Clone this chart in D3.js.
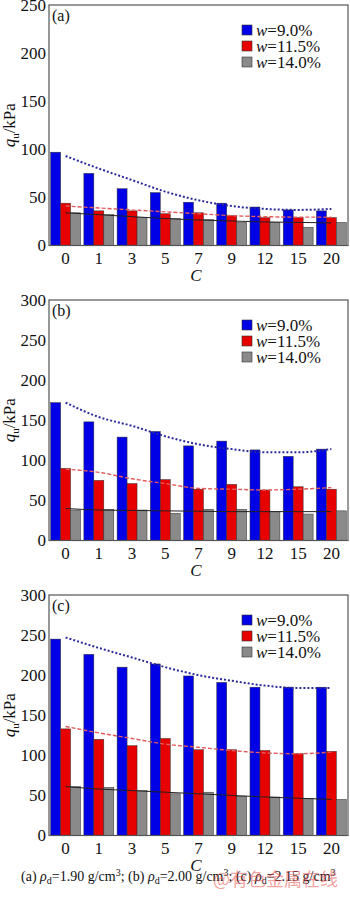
<!DOCTYPE html>
<html>
<head>
<meta charset="utf-8">
<script src="https://cdn.jsdelivr.net/npm/d3@7"></script>
<style>
  body { margin: 0; background: #fff; }
  svg { display: block; }
  svg text { font-family: "Liberation Serif", "Times New Roman", serif; }
  svg text.cjk { font-family: "Noto Sans CJK SC", sans-serif; }
</style>
</head>
<body>
<svg id="main-svg" width="350" height="898"></svg>
<script>
// categories (C) and series
const categories = ["0", "1", "3", "5", "7", "9", "12", "15", "20"];
const seriesNames = ["9.0%", "11.5%", "14.0%"];
const seriesColors = ["#0000e6", "#e60000", "#8a8a8a"];

// panel (a) rho_d = 1.90
const aBlue = [97, 75, 59, 55, 45, 44, 40, 37, 36];
const aRed = [44, 36, 36, 33, 34, 31, 29, 29, 29];
const aGray = [34, 32, 29, 28, 27, 24, 24, 19, 24];
const aTrendBlue = [93, 80, 68, 56, 47, 41, 38, 37, 38];
const aTrendRed = [41, 39, 37, 35, 33, 31, 30, 29.5, 29.5];
const aTrendGray = [34, 32, 30, 28, 26.5, 25.5, 24.5, 24, 23.5];

// panel (b) rho_d = 2.00
const bBlue = [172, 148, 129, 136, 118, 124, 113, 105, 114];
const bRed = [90, 75, 71, 76, 64, 70, 63, 67, 64];
const bGray = [38, 39, 38, 34, 39, 39, 36, 33, 37];
const bTrendBlue = [172, 154, 143, 130, 120, 114, 110, 110, 114];
const bTrendRed = [89, 85, 77, 71, 65, 64, 63, 64, 66];
const bTrendGray = [40, 38, 37.5, 37, 36.5, 36, 36, 36, 36];

// panel (c) rho_d = 2.15
const cBlue = [245, 226, 210, 214, 199, 191, 185, 185, 185];
const cRed = [133, 120, 112, 121, 107, 107, 106, 102, 105];
const cGray = [61, 60, 56, 52, 54, 49, 48, 46, 45];
const cTrendBlue = [247, 234, 222, 210, 200, 193, 187, 184, 184];
const cTrendRed = [136, 128, 121, 114, 110, 106, 103, 102, 104];
const cTrendGray = [61, 58, 56, 54, 52, 50, 48, 46.5, 45];

const yMaxes = [250, 300, 300];
const panelTags = ["(a)", "(b)", "(c)"];
const densities = ["1.90", "2.00", "2.15"];

const panels = [
    { bars: [aBlue, aRed, aGray], trends: [aTrendBlue, aTrendRed, aTrendGray] },
    { bars: [bBlue, bRed, bGray], trends: [bTrendBlue, bTrendRed, bTrendGray] },
    { bars: [cBlue, cRed, cGray], trends: [cTrendBlue, cTrendRed, cTrendGray] }
];

const svg = d3.select("#main-svg");

const left = 49, right = 348;
const plotHeight = 240.5;
const panelTops = [5, 300, 595];

// trend line styles: blue dotted, red dashed, gray solid dark
const trendStyles = [
    { stroke: "#2b2b9c", width: 2, dash: "2,2" },
    { stroke: "#e35a5a", width: 1.4, dash: "4,2" },
    { stroke: "#222", width: 1, dash: null }
];

panels.forEach((p, pi) => {
    const top = panelTops[pi];
    const g = svg.append("g").attr("transform", `translate(0,${top})`);

    const x0 = d3.scaleBand()
        .domain(categories)
        .range([left, right])
        .paddingInner(0.1)
        .paddingOuter(0.05);

    const x1 = d3.scaleBand()
        .domain(d3.range(seriesNames.length))
        .range([0, x0.bandwidth()]);

    const y = d3.scaleLinear()
        .domain([0, yMaxes[pi]])
        .range([plotHeight, 0]);

    // plot background
    g.append("rect")
        .attr("x", left).attr("y", 0)
        .attr("width", right - left).attr("height", plotHeight)
        .attr("fill", "#fff");

    // bars
    p.bars.forEach((vals, si) => {
        g.selectAll(".bar-" + si)
            .data(vals)
            .enter()
            .append("rect")
            .attr("x", (d, i) => x0(categories[i]) + x1(si))
            .attr("y", d => y(d))
            .attr("width", x1.bandwidth())
            .attr("height", d => y(0) - y(d))
            .attr("fill", seriesColors[si])
            .attr("stroke", "#333")
            .attr("stroke-width", 0.5);
    });

    // trend lines
    p.trends.forEach((vals, si) => {
        const line = d3.line()
            .x((d, i) => x0(categories[i]) + x0.bandwidth() / 2)
            .y(d => y(d))
            .curve(d3.curveMonotoneX);
        const st = trendStyles[si];
        g.append("path")
            .datum(vals)
            .attr("fill", "none")
            .attr("stroke", st.stroke)
            .attr("stroke-width", st.width)
            .attr("stroke-dasharray", st.dash)
            .attr("d", line);
    });

    // frame
    g.append("rect")
        .attr("x", left).attr("y", 0)
        .attr("width", right - left).attr("height", plotHeight)
        .attr("fill", "none")
        .attr("stroke", "#555")
        .attr("stroke-width", 1.2);

    // y axis
    const yAxis = g.append("g")
        .attr("transform", `translate(${left},0)`)
        .call(d3.axisLeft(y).tickValues(d3.range(0, yMaxes[pi] + 1, 50)).tickSize(0).tickPadding(3));
    yAxis.select(".domain").remove();
    yAxis.selectAll("text")
        .attr("font-size", "17px")
        .attr("fill", "#111");

    // x axis
    const xAxis = g.append("g")
        .attr("transform", `translate(0,${plotHeight})`)
        .call(d3.axisBottom(x0).tickSize(0).tickPadding(6));
    xAxis.select(".domain").remove();
    xAxis.selectAll("text")
        .attr("font-size", "17px")
        .attr("fill", "#111");

    // x axis title
    g.append("text")
        .attr("x", 196)
        .attr("y", plotHeight + 35)
        .attr("text-anchor", "middle")
        .attr("font-style", "italic")
        .attr("font-size", "17px")
        .attr("fill", "#111")
        .text("C");

    // y axis title q_u/kPa
    const yt = g.append("text")
        .attr("transform", `translate(15,${plotHeight / 2}) rotate(-90)`)
        .attr("text-anchor", "middle")
        .attr("font-size", "17px")
        .attr("fill", "#111");
    yt.append("tspan").attr("font-style", "italic").text("q");
    yt.append("tspan").attr("font-size", "11px").attr("dy", 4).text("u");
    yt.append("tspan").attr("dy", -4).text("/kPa");

    // panel tag
    g.append("text")
        .attr("x", 52)
        .attr("y", 16)
        .attr("font-size", "16px")
        .attr("fill", "#111")
        .text(panelTags[pi]);

    // legend
    seriesNames.forEach((name, si) => {
        const cy = 25 + si * 16;
        g.append("rect")
            .attr("x", 242).attr("y", cy - 5)
            .attr("width", 10).attr("height", 10)
            .attr("fill", seriesColors[si])
            .attr("stroke", "#333")
            .attr("stroke-width", 0.6);
        const t = g.append("text")
            .attr("x", 256)
            .attr("y", cy + 5.5)
            .attr("font-size", "17px")
            .attr("fill", "#111");
        t.append("tspan").attr("font-style", "italic").text("w");
        t.append("tspan").text("=" + name);
    });
});

// caption
const cap = svg.append("text")
    .attr("x", 21)
    .attr("y", 881)
    .attr("font-size", "14px")
    .attr("fill", "#111");
densities.forEach((dv, i) => {
    cap.append("tspan").text((i > 0 ? " " : "") + panelTags[i] + " ");
    cap.append("tspan").attr("font-style", "italic").text("ρ");
    cap.append("tspan").attr("font-size", "10px").attr("dy", 3).text("d");
    cap.append("tspan").attr("dy", -3).text("=" + dv + " g/cm");
    cap.append("tspan").attr("font-size", "10px").attr("dy", -5).text("3");
    cap.append("tspan").attr("dy", 5).text(i < 2 ? ";" : "");
});

// watermark
svg.append("text")
    .attr("class", "cjk")
    .attr("x", 213)
    .attr("y", 886)
    .attr("font-size", "18px")
    .attr("fill", "rgba(235,80,80,0.55)")
    .text("@有色金属在线");
</script>
</body>
</html>
